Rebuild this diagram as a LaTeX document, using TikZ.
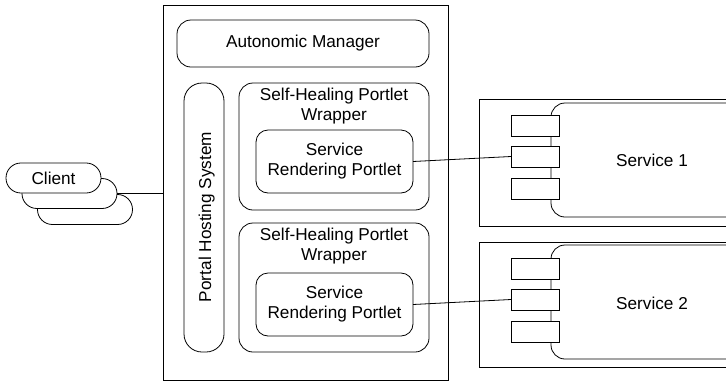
\documentclass[tikz,border=0pt]{standalone}
\usepackage{fontspec}
\setmainfont{Liberation Sans}
\begin{document}
\begin{tikzpicture}[x=1pt,y=-1pt,
  every node/.style={inner sep=0pt, outer sep=0pt, font=\fontsize{17.2}{20}\selectfont},
  box/.style={draw, line width=0.8pt, rectangle, fill=white},
  rbox/.style={draw, line width=0.8pt, rectangle, rounded corners=14pt, fill=white},
  capsule/.style={draw, line width=0.8pt, rectangle, rounded corners=14.9pt, fill=white, minimum width=95pt, minimum height=30pt},
  port/.style={draw, line width=0.8pt, rectangle, fill=white, minimum width=48pt, minimum height=21pt},
  conn/.style={line width=0.8pt}]
\clip (0,0) rectangle (726,384);
\fill[white] (0,0) rectangle (726,384);

% client capsules
\node[capsule] (c3) at (85,209.5) {};
\node[capsule] (c2) at (69.5,193.5) {};
\node[capsule] (c1) at (53.5,178) {Client};

% main container
\node[box, minimum width=285pt, minimum height=375pt] (main) at (305.5,192.5) {};
\draw[conn] (c2.east) -- (c2.east -| main.west);

\node[rbox, minimum width=252pt, minimum height=47pt] (am) at (303,43.5) {Autonomic Manager};
\node[rbox, rounded corners=18pt, minimum width=40pt, minimum height=269pt] (phs) at (204,217.5) {};
\node[rotate=90, anchor=base] (phst) at (211,217) {Portal Hosting System};

% wrappers
\node[rbox, minimum width=190pt, minimum height=127pt] (w1) at (334,146.5) {};
\node[anchor=north, align=center, yshift=-5pt] (w1t) at (w1.north) {Self-Healing Portlet\\Wrapper};
\node[rbox, rounded corners=12pt, minimum width=157pt, minimum height=63pt, align=center] (srp1) at (334.5,161.5) {Service\\Rendering Portlet};

\node[rbox, minimum width=190pt, minimum height=129pt] (w2) at (334,287.5) {};
\node[anchor=north, align=center, yshift=-5pt] (w2t) at (w2.north) {Self-Healing Portlet\\Wrapper};
\node[rbox, rounded corners=12pt, minimum width=157pt, minimum height=63pt, align=center] (srp2) at (334.5,304.5) {Service\\Rendering Portlet};

% service 1
\node[box, minimum width=260pt, minimum height=127pt] (s1) at (609,162.5) {};
\node[rbox, minimum width=190pt, minimum height=114pt] (s1i) at (646,160) {};
\node (s1t) at (652,160) {Service 1};
\node[port] (p11) at (535,125.5) {};
\node[port] (p12) at (535,156.5) {};
\node[port] (p13) at (535,188.5) {};

% service 2
\node[box, minimum width=260pt, minimum height=125pt] (s2) at (609,304.5) {};
\node[rbox, minimum width=190pt, minimum height=114pt] (s2i) at (646,302) {};
\node (s2t) at (652,303) {Service 2};
\node[port] (p21) at (535,268.5) {};
\node[port] (p22) at (535,299.5) {};
\node[port] (p23) at (535,331.5) {};

% connectors
\draw[conn] (srp1.east) -- (p12.west);
\draw[conn] (srp2.east) -- (p22.west);
\end{tikzpicture}
\end{document}
